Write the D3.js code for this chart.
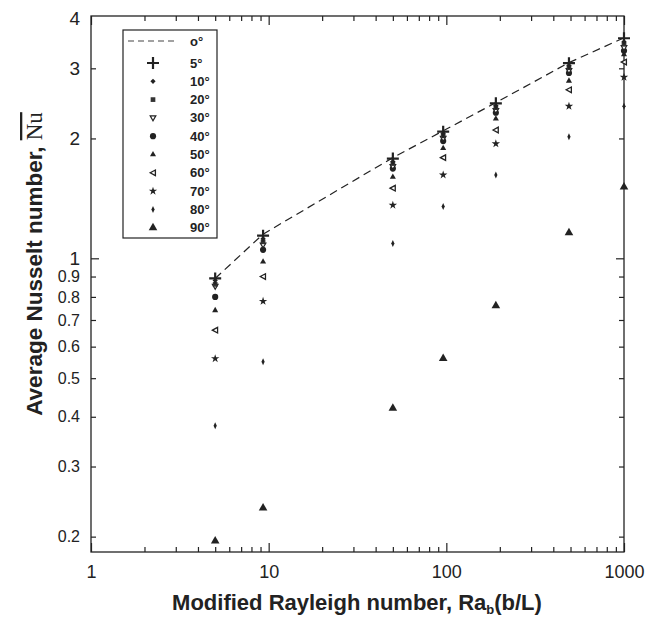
<!DOCTYPE html>
<html>
<head>
<meta charset="utf-8">
<script src="https://cdn.jsdelivr.net/npm/d3@7"></script>
<style>
  body { margin: 0; background: #fff; }
  svg { display: block; }
</style>
</head>
<body>
<script>
// Ra_b(b/L) positions of the measurements
const ra = [5, 9.3, 50, 96, 190, 490, 1000];
const angles = ['o°', '5°', '10°', '20°', '30°', '40°', '50°', '60°', '70°', '80°', '90°'];
const nu0  = [0.89, 1.15, 1.79, 2.09, 2.46, 3.10, 3.58];
const nu5  = [0.89, 1.14, 1.78, 2.08, 2.45, 3.09, 3.57];
const nu10 = [0.88, 1.12, 1.75, 2.06, 2.42, 3.05, 3.50];
const nu20 = [0.86, 1.10, 1.73, 2.03, 2.39, 3.01, 3.45];
const nu30 = [0.85, 1.08, 1.70, 2.00, 2.35, 2.96, 3.38];
const nu40 = [0.80, 1.05, 1.68, 1.97, 2.32, 2.92, 3.32];
const nu50 = [0.74, 0.98, 1.60, 1.89, 2.24, 2.79, 3.25];
const nu60 = [0.66, 0.90, 1.50, 1.79, 2.10, 2.65, 3.11];
const nu70 = [0.56, 0.78, 1.36, 1.62, 1.94, 2.41, 2.85];
const nu80 = [0.38, 0.55, 1.09, 1.35, 1.62, 2.02, 2.41];
const nu90 = [0.195, 0.236, 0.42, 0.56, 0.76, 1.16, 1.51];
const xLabels = [1, 10, 100, 1000];
const yLabels = [0.2, 0.3, 0.4, 0.5, 0.6, 0.7, 0.8, 0.9, 1, 2, 3, 4];

const W = 647, H = 619;
const pLeft = 91, pRight = 624, pTop = 16, pBottom = 552;

const x = d3.scaleLog().domain([1, 1000]).range([pLeft, pRight]);
const y = d3.scaleLog().domain([0.183, 4.06]).range([pBottom, pTop]);

const svg = d3.select('body').append('svg')
  .attr('width', W).attr('height', H)
  .style('font-family', "'Liberation Sans', Arial, sans-serif");

// minor ticks of x: 2..9 per decade
const xMinor = [];
[1, 10, 100].forEach(d => { for (let k = 2; k <= 9; k++) xMinor.push(d * k); });

// x axis bottom (inward ticks)
svg.append('g')
  .attr('transform', `translate(0,${pBottom})`)
  .call(d3.axisBottom(x).tickValues(xLabels).tickSize(-9).tickPadding(13)
    .tickFormat(d3.format('d')))
  .call(g => g.select('.domain').remove())
  .call(g => g.selectAll('text').style('font-size', '18px').attr('fill', '#222'));
svg.append('g')
  .attr('transform', `translate(0,${pBottom})`)
  .call(d3.axisBottom(x).tickValues(xMinor).tickSize(-5).tickFormat(''))
  .call(g => g.select('.domain').remove());
// x axis top (mirror)
svg.append('g')
  .attr('transform', `translate(0,${pTop})`)
  .call(d3.axisTop(x).tickValues(xLabels).tickSize(-9).tickFormat(''))
  .call(g => g.select('.domain').remove());
svg.append('g')
  .attr('transform', `translate(0,${pTop})`)
  .call(d3.axisTop(x).tickValues(xMinor).tickSize(-5).tickFormat(''))
  .call(g => g.select('.domain').remove());

// y axis left
const yMajor = [1];
const yMinor = yLabels.filter(v => v !== 1 && v !== 4);
svg.append('g')
  .attr('transform', `translate(${pLeft},0)`)
  .call(d3.axisLeft(y).tickValues(yLabels).tickSize(0).tickPadding(11)
    .tickFormat(d => d < 1 ? d3.format('.1f')(d) : d))
  .call(g => g.select('.domain').remove())
  .call(g => g.selectAll('text')
    .style('font-size', d => d < 1 ? '16px' : '19px').attr('fill', '#222'));
svg.append('g')
  .attr('transform', `translate(${pLeft},0)`)
  .call(d3.axisLeft(y).tickValues(yMajor).tickSize(-8).tickFormat(''))
  .call(g => g.select('.domain').remove());
svg.append('g')
  .attr('transform', `translate(${pLeft},0)`)
  .call(d3.axisLeft(y).tickValues(yMinor).tickSize(-5).tickFormat(''))
  .call(g => g.select('.domain').remove());
// y axis right (mirror)
svg.append('g')
  .attr('transform', `translate(${pRight},0)`)
  .call(d3.axisRight(y).tickValues(yMajor).tickSize(-8).tickFormat(''))
  .call(g => g.select('.domain').remove());
svg.append('g')
  .attr('transform', `translate(${pRight},0)`)
  .call(d3.axisRight(y).tickValues(yMinor).tickSize(-5).tickFormat(''))
  .call(g => g.select('.domain').remove());

svg.selectAll('.tick line').attr('stroke', '#222').attr('stroke-width', 1.2);

// frame
svg.append('rect')
  .attr('x', pLeft).attr('y', pTop)
  .attr('width', pRight - pLeft).attr('height', pBottom - pTop)
  .attr('fill', 'none').attr('stroke', '#222').attr('stroke-width', 1.3);

// marker shapes
const sym = (type, size) => d3.symbol().type(type).size(size)();
const markers = [
  null,
  { d: 'M-6,0H6M0,-6V6', fill: 'none', stroke: 2.2 },
  { d: 'M0,-2.6L2.6,0L0,2.6L-2.6,0Z', fill: '#222', stroke: 0 },
  { d: sym(d3.symbolSquare, 22), fill: '#333', stroke: 0 },
  { d: 'M-2.8,-2L2.8,-2L0,2.8Z', fill: '#fff', stroke: 1.2 },
  { d: sym(d3.symbolCircle, 30), fill: '#222', stroke: 0 },
  { d: sym(d3.symbolTriangle, 16), fill: '#222', stroke: 0 },
  { d: 'M-2.8,0L2.4,-2.8L2.4,2.8Z', fill: '#fff', stroke: 1.3 },
  { d: sym(d3.symbolStar, 22), fill: '#222', stroke: 0 },
  { d: 'M0,-3.5L1.6,0L0,3.5L-1.6,0Z', fill: '#222', stroke: 0 },
  { d: sym(d3.symbolTriangle, 32), fill: '#222', stroke: 0 }
];
const seriesList = [nu0, nu5, nu10, nu20, nu30, nu40, nu50, nu60, nu70, nu80, nu90];

// 0° dashed line
const line = d3.line().x((d, i) => x(ra[i])).y(d => y(d));
svg.append('path')
  .attr('d', line(nu0))
  .attr('fill', 'none').attr('stroke', '#222')
  .attr('stroke-width', 1.2).attr('stroke-dasharray', '8,5');

// points (draw from 90° up so the top markers sit on top)
for (let s = seriesList.length - 1; s >= 1; s--) {
  const m = markers[s];
  svg.append('g').selectAll('path')
    .data(seriesList[s])
    .join('path')
    .attr('transform', (d, i) => `translate(${x(ra[i])},${y(d)})`)
    .attr('d', m.d)
    .attr('fill', m.fill)
    .attr('stroke', m.stroke ? '#222' : 'none')
    .attr('stroke-width', m.stroke);
}

// legend
const lg = svg.append('g').attr('transform', 'translate(123,30)');
lg.append('rect').attr('width', 94).attr('height', 208)
  .attr('fill', '#fff').attr('stroke', '#222').attr('stroke-width', 1.2);
const rowY = i => i === 0 ? 11 : 33 + (i - 1) * 18.3;
angles.forEach((a, i) => {
  if (i === 0) {
    lg.append('line').attr('x1', 5).attr('x2', 55)
      .attr('y1', rowY(0)).attr('y2', rowY(0))
      .attr('stroke', '#444').attr('stroke-width', 1.2).attr('stroke-dasharray', '6,4');
  } else {
    const m = markers[i];
    lg.append('path')
      .attr('transform', `translate(30,${rowY(i)})`)
      .attr('d', m.d)
      .attr('fill', m.fill)
      .attr('stroke', m.stroke ? '#222' : 'none')
      .attr('stroke-width', m.stroke);
  }
  lg.append('text')
    .attr('x', 67).attr('y', rowY(i)).attr('dy', '0.35em')
    .style('font-size', '13px').style('font-weight', 'bold')
    .attr('fill', '#222')
    .text(a);
});

// axis titles
const xt = svg.append('text')
  .attr('x', 357).attr('y', 610)
  .attr('text-anchor', 'middle')
  .style('font-size', '22px').style('font-weight', 'bold').attr('fill', '#222');
xt.append('tspan').text('Modified Rayleigh number, Ra');
xt.append('tspan').attr('dy', 4).style('font-size', '13px').text('b');
xt.append('tspan').attr('dy', -4).text('(b/L)');

const yt = svg.append('text')
  .attr('transform', 'translate(42,264) rotate(-90)')
  .attr('text-anchor', 'middle')
  .attr('fill', '#222');
yt.append('tspan').style('font-size', '22.5px').style('font-weight', 'bold')
  .text('Average Nusselt number, ');
yt.append('tspan')
  .style('font-family', "'Liberation Serif', 'Times New Roman', serif")
  .style('font-size', '23px')
  .style('text-decoration', 'overline')
  .text('Nu');
</script>
</body>
</html>
